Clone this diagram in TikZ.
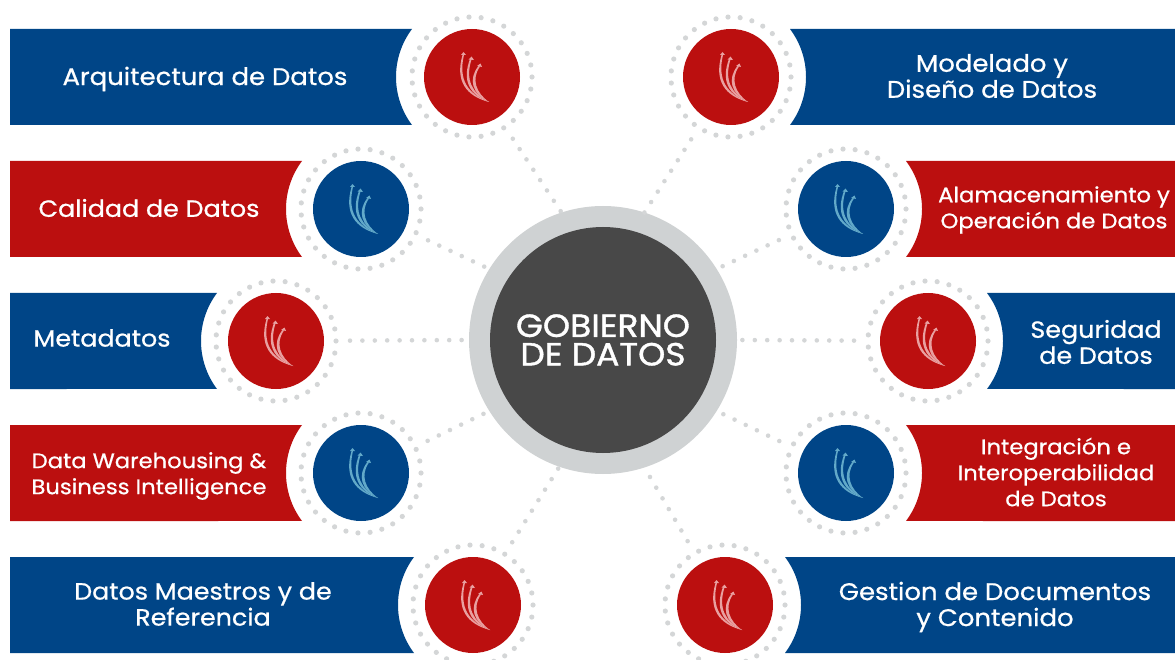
\documentclass[tikz,border=0pt]{standalone}
\usepackage{fontspec}
\setmainfont{Poppins}[FakeStretch=1.08,FakeBold=0.7]
\newfontfamily\hubfont{Poppins}[FakeStretch=1.08,FakeBold=1.2]
\definecolor{gblue}{HTML}{004587}
\definecolor{gred}{HTML}{BB0F0F}
\definecolor{gblueLogo}{HTML}{62A9C9}
\definecolor{gredLogo}{HTML}{E9A0A0}
\definecolor{gdot}{HTML}{D4D6D7}
\definecolor{gring}{HTML}{CFD2D3}
\definecolor{ghub}{HTML}{484848}
\tikzset{
  disc/.style={circle,inner sep=0pt,outer sep=0pt,minimum size=96pt,fill=#1},
  ringdots/.style={draw=gdot,line width=5.2pt,line cap=round,dash pattern=on 0pt off 12.161pt},
  spoke/.style={draw=gdot,line width=4.6pt,line cap=round,dash pattern=on 0pt off 12.4pt,shorten <=74pt},
  bartext/.style={text=white,align=center,font=\fontsize{#1}{26}\selectfont},
  bartext/.default=24,
}
\newcommand{\gcircle}[5]{%
  \node[disc=#4] (#1) at (#2,#3) {};
  \draw[ringdots] (#1.center) circle[radius=60];
  \begin{scope}[shift={(#2,#3)},line cap=round,draw=#5,fill=#5]
    \fill (17,25) .. controls (-6,19) and (-17,4) .. (-9.5,-22) -- (-8,-22)
          .. controls (-14,3) and (-4,17) .. (17,25) -- cycle;
    \fill (17,25) .. controls (-3,18) and (-10,3) .. (-2,-18) -- (-0.5,-17.5)
          .. controls (-7,3) and (0,16) .. (17,25) -- cycle;
    \fill (17,25) .. controls (0,17) and (-4,2) .. (6.5,-11) -- (8,-10.5)
          .. controls (-1,2) and (4,16) .. (17,25) -- cycle;
    \fill (-11,-22) -- (-8.5,-25) -- (-6,-22) -- cycle;
    \fill (-3.5,-17.5) -- (-0.5,-20.5) -- (2,-17) -- cycle;
    \fill (5,-11) -- (8.5,-13.5) -- (10,-10) -- cycle;
  \end{scope}}
\newcommand{\lbar}[4]{% colour, right corner x, top y, circle-arc: left-side bar
  \fill[#1] (10,#3) -- (#2,#3) arc[start angle=216.87,end angle=143.13,radius=80] -- (10,#4) -- cycle;}
\newcommand{\rbar}[4]{%
  \fill[#1] (1175,#3) -- (#2,#3) arc[start angle=-36.87,end angle=36.87,radius=80] -- (1175,#4) -- cycle;}
\begin{document}
\begin{tikzpicture}[x=1pt,y=-1pt]
\useasboundingbox (0,0) rectangle (1175,660);
% bars
\lbar{gblue}{412}{29}{125}
\lbar{gred}{302}{161}{257}
\lbar{gblue}{217}{293}{389}
\lbar{gred}{302}{425}{521}
\lbar{gblue}{414}{557}{653}
\rbar{gblue}{790}{29}{125}
\rbar{gred}{906}{161}{257}
\rbar{gblue}{987}{293}{389}
\rbar{gred}{906}{425}{521}
\rbar{gblue}{785}{557}{653}
% hub
\node[circle,inner sep=0pt,outer sep=0pt,minimum size=268pt,fill=gring] (hubring) at (603,340) {};
\node[circle,inner sep=0pt,outer sep=0pt,minimum size=226pt,fill=ghub,text=white,align=center,
      font=\hubfont\fontsize{32}{28.5}\selectfont] (hub) at (603,340) {GOBIERNO\\DE DATOS};
% circles
\gcircle{la}{472}{77}{gred}{gredLogo}
\gcircle{lb}{361}{209}{gblue}{gblueLogo}
\gcircle{lc}{276}{341}{gred}{gredLogo}
\gcircle{ld}{361}{473}{gblue}{gblueLogo}
\gcircle{le}{473}{605}{gred}{gredLogo}
\gcircle{ra}{731}{77}{gred}{gredLogo}
\gcircle{rb}{846}{209}{gblue}{gblueLogo}
\gcircle{rc}{928}{341}{gred}{gredLogo}
\gcircle{rd}{846}{473}{gblue}{gblueLogo}
\gcircle{re}{725}{605}{gred}{gredLogo}
% connectors
\draw[spoke] (la.center) -- (hubring.108);
\draw[spoke] (lb.center) -- (hubring.148);
\draw[spoke] (lc.center) -- (hubring.180);
\draw[spoke] (ld.center) -- (hubring.212);
\draw[spoke] (le.center) -- (hubring.251);
\draw[spoke] (ra.center) -- (hubring.72);
\draw[spoke] (rb.center) -- (hubring.32);
\draw[spoke] (rc.center) -- (hubring.0);
\draw[spoke] (rd.center) -- (hubring.-32);
\draw[spoke] (re.center) -- (hubring.-72);
% labels
\node[bartext] (ta) at (205,79) {Arquitectura de Datos};
\node[bartext=23.5] (tb) at (149,208) {Calidad de Datos};
\node[bartext=23.5] (tc) at (102,338) {Metadatos};
\node[bartext=21] (td) at (149,476) {Data Warehousing \&\\Business Intelligence};
\node[bartext=23.5] (te) at (203,604) {Datos Maestros y de\\Referencia};
\node[bartext] (tf) at (992,76) {Modelado y\\Diseño de Datos};
\node[bartext=21] (tg) at (1054,210) {Alamacenamiento y\\Operación de Datos};
\node[bartext=23.5] (th) at (1096,342) {Seguridad\\de Datos};
\node[bartext=21] (ti) at (1056,472) {Integración e\\Interoperabilidad\\de Datos};
\node[bartext] (tj) at (995,607) {Gestion de Documentos\\y Contenido};
\end{tikzpicture}
\end{document}
